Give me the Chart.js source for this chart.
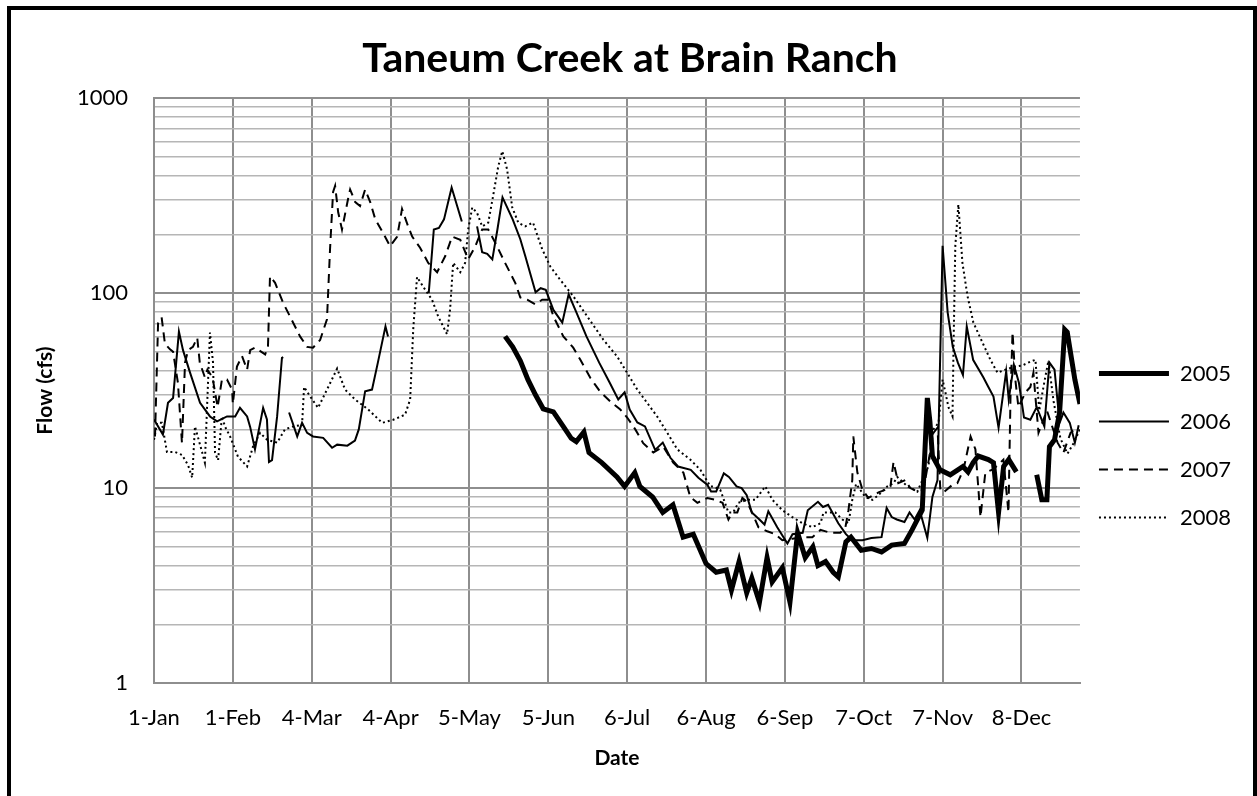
<!DOCTYPE html>
<html>
<head>
<meta charset="utf-8">
<title>Taneum Creek at Brain Ranch</title>
<script src="https://cdn.jsdelivr.net/npm/chart.js@4.4.1/dist/chart.umd.min.js"></script>
<style>
  html, body { margin: 0; padding: 0; background: #fff; overflow: hidden; }
  #wrap { position: relative; width: 1257px; height: 796px; }
  #frame { position: absolute; left: 7px; top: 6px; width: 1250px; height: 900px; border: 4px solid #000; box-sizing: border-box; pointer-events: none; }
</style>
</head>
<body>
<div id="wrap">
  <canvas id="myChart" width="1257" height="796"></canvas>
  <div id="frame"></div>
</div>
<script>
const ctx = document.getElementById('myChart');

// x ticks every 31 days from 1-Jan (day 0)
const tickDays = [0, 31, 62, 93, 124, 155, 186, 217, 248, 279, 310, 341];
const tickLabels = ['1-Jan', '1-Feb', '4-Mar', '4-Apr', '5-May', '5-Jun', '6-Jul', '6-Aug', '6-Sep', '7-Oct', '7-Nov', '8-Dec'];

// log axis: labels on decades, grid on every 1..9 step
const yDecades = [1, 10, 100, 1000];
const yGridValues = [1, 2, 3, 4, 5, 6, 7, 8, 9, 10, 20, 30, 40, 50, 60, 70, 80, 90,
    100, 200, 300, 400, 500, 600, 700, 800, 900, 1000];

const years = ['2005', '2006', '2007', '2008'];

// [day of year, flow cfs]; null flow = missing record
const flow2005 = [[138, 60], [141, 53], [144, 45], [147, 36], [150, 30], [153, 25.5], [157, 24.6], [161, 20.6],
    [164, 18], [166, 17.3], [169, 19.4], [171, 15.2], [176, 13.5], [182, 11.4], [185, 10.2], [189, 12],
    [191, 10.2], [196, 9], [200, 7.5], [204, 8.2], [208, 5.6], [212, 5.8], [217, 4.1], [221, 3.7],
    [225, 3.8], [227, 3.0], [230, 4.2], [233, 2.9], [235, 3.45], [238, 2.6], [241, 4.4], [243, 3.3],
    [247, 3.9], [250, 2.6], [253, 5.9], [256, 4.4], [259, 5.0], [261, 4.0], [264, 4.2], [267, 3.7],
    [269, 3.5], [272, 5.3], [274, 5.6], [278, 4.8], [282, 4.9], [286, 4.7], [290, 5.1], [295, 5.2],
    [298, 6.1], [302, 7.7], [304, 29], [305, 22], [306, 14.6], [309, 12.4], [313, 11.7], [316, 12.4],
    [318, 12.9], [320, 12.1], [322, 13.5], [324, 14.6], [328, 14], [330, 13.5], [332, 7.5], [334, 12.9],
    [336, 14], [339, 12.1], [343, null], [347, 11.7], [349, 8.7], [351, 8.7], [352, 16.3], [354, 17.7],
    [356, 24.4], [358, 65], [359, 63], [362, 36], [364, 27]];

const flow2006 = [[0, 22.5], [3.5, 18.8], [5.5, 27.4], [7.5, 29], [9.8, 63.5], [11.4, 51], [14.2, 39], [18.1, 27.4],
    [22, 23.3], [24.8, 22], [28.7, 23.3], [31.9, 23.3], [33.8, 25.8], [36.6, 23.3], [37.8, 20.6], [39.7, 15.8],
    [42.9, 25.8], [44.4, 22.5], [45.2, 13.6], [46.4, 13.9], [48.4, 23.3], [50.3, 46.6], [50.8, 47], [52, null],
    [53.1, 24.4], [56.3, 18.4], [58.2, 21.6], [60.2, 19.2], [62.5, 18.4], [66.5, 18.1], [70, 16.1], [72, 16.7],
    [76, 16.5], [79, 17.5], [80.5, 20], [83, 31.4], [85.7, 32], [88, 44], [91, 67.5], [92, 60], [100, null],
    [108, 100], [110, 212], [112, 216], [114, 239], [117, 348], [121, 233], [124, null],
    [127, 220], [129, 162], [131, 159], [133, 149], [135, 212], [137, 310], [141, 239], [144, 189],
    [146, 154], [150, 101], [152, 106], [154, 104], [157, 82], [160.5, 70.6], [163, 98.6], [166, 80],
    [170, 60], [175, 44], [179, 35], [182.5, 28.5], [185, 31], [187, 25.3], [190, 21.7], [193, 20.7],
    [197, 15.7], [200, 17.1], [203, 14.3], [206, 12.9], [211, 12.4], [214, 11.3], [217.5, 10.4], [219, 9.6],
    [221, 9.6], [224, 11.9], [226, 11.4], [229, 10.2], [231, 10], [233, 9.2], [235, 7.5], [238, 6.9],
    [240, 6.5], [241.5, 7.6], [245, 6.3], [249, 5.2], [251, 5.8], [255, 5.9], [257, 7.7], [261, 8.5],
    [263, 8.0], [265, 8.2], [269, 6.6], [272, 5.8], [274.5, 5.4], [278.5, 5.4], [282, 5.55], [286, 5.6],
    [288, 7.9], [290, 7.1], [292, 6.9], [295, 6.7], [297, 7.5], [299, 6.9], [301, 7.7], [304, 5.55],
    [306, 9.0], [308, 11], [310, 175], [312, 79.5], [314, 53], [316, 44], [318, 38], [319.5, 67.5],
    [322, 45.5], [326, 37], [328, 33], [330, 29.5], [332, 20.4], [335, 39.7], [336, 28.5], [338, 43],
    [340, 34.7], [342, 23], [344.5, 22.4], [347, 26], [350, 20.7], [352, 44], [354, 40.5], [356, 21.6],
    [357.5, 24.4], [360, 21.6], [362, 17.1], [363.5, 21]];

const flow2007 = [[0.4, 18.4], [1.6, 70], [3, 75], [4.3, 55], [6.3, 51.5], [7.5, 50], [9.4, 34.7], [11, 17],
    [12.2, 44], [13.4, 51], [15.3, 53], [17, 59], [18, 44], [20, 37], [21, 40.5], [23, 37], [25, 26],
    [26.7, 36], [28.7, 36], [30.7, 32], [31, 27], [32.6, 42], [34.6, 47.5], [36.6, 40.5], [37.8, 51],
    [39.7, 52.5], [43.7, 48.5], [44.8, 53], [45.6, 122], [47.6, 113], [50.7, 89.5], [54.7, 70.5], [57.4, 60],
    [60.2, 53], [62.5, 52.5], [65.3, 57.5], [68, 73.5], [69.2, 168], [70.4, 330], [71.2, 355], [72.4, 260],
    [73.9, 212], [76.3, 305], [77.1, 340], [79.1, 293], [81, 280], [83, 340], [85, 293], [87, 239],
    [90, 204], [92.8, 174], [95.6, 195], [97.5, 270], [99.9, 220], [101.5, 195], [104.6, 171], [107.8, 143],
    [111.3, 128], [114.5, 155], [117.2, 195], [120.4, 188], [123.5, 149], [126.3, 174], [129, 212], [131.4, 212],
    [134, 183], [138, 143], [142, 113], [144, 95], [146.7, 92.5], [149.9, 87.6], [152.6, 92.5], [155, 92.5],
    [157, 76], [160.9, 60], [164.8, 52.5], [167.6, 45.5], [171.5, 36.8], [175.4, 31.2], [179.4, 27.8], [183.3, 25.3],
    [186, 23], [189.2, 20], [192.3, 17], [196.3, 15.2], [200.2, 16.3], [204.1, 13.5], [208.1, 12], [210.8, 9.0],
    [213.6, 8.4], [217.5, 8.9], [220.7, 8.7], [223.5, 8.4], [225.8, 6.9], [227.3, 7.5], [229.3, 7.5], [231.3, 8.9],
    [233.2, 8.5], [237.6, 6.3], [241.1, 6.0], [244.2, 5.8], [247, 5.4], [251, 5.5], [254.9, 5.6], [258.8, 5.6],
    [262, 6.1], [265.9, 5.9], [269.8, 5.9], [271.8, 6.3], [273, 7.7], [274.5, 11], [274.9, 18.4], [276.5, 12],
    [278.5, 9.8], [280.8, 8.9], [282.8, 9.2], [284.8, 9.5], [287.5, 9.8], [289.5, 10.2], [290.7, 13.6], [292.6, 10.6],
    [295.4, 11], [297.3, 10], [300.1, 9.6], [302.5, 9.8], [306.4, 19.2], [308, 20.4], [309.1, 9.8], [310.3, 9.5],
    [313.9, 10.4], [315.8, 10.6], [318.2, 12.4], [321, 18.4], [322.9, 15.8], [324.9, 7.1], [326.8, 12], [330, 12.5],
    [333.9, 14], [335.9, 7.5], [336.7, 29.5], [337.5, 63], [338.6, 36], [339.8, 26], [342.6, 31], [344.5, 33],
    [345.7, 39], [347.7, 19.2], [351, 25], [355.2, 17.1], [357.5, 15.2], [360.3, 19.2], [363, 20.7]];

const flow2008 = [[0, 17.7], [1.2, 21.6], [3.1, 21.6], [5.1, 15.3], [8.3, 15.3], [11, 14.8], [13.4, 13.1], [15, 11.3],
    [16.1, 20.7], [18.9, 15.3], [20, 13.5], [22, 62.8], [23.2, 44], [24, 15.2], [25.2, 13.9], [26.7, 23.3],
    [27.9, 20.7], [29.9, 18.4], [33, 14.5], [36.6, 12.9], [38.9, 16.3], [41.7, 19.2], [44.4, 17.7], [48.4, 17.1],
    [51.5, 20], [54.7, 20.7], [58.2, 21.1], [59, 33], [61.4, 29.5], [64.5, 25.8], [68, 32], [72, 41],
    [75.1, 32], [79, 28.5], [84.2, 25.3], [89.7, 21.6], [94, 22.4], [98.7, 23.8], [100.7, 28.5], [101.9, 65],
    [103.4, 121], [105.8, 108], [109.3, 92.5], [111.7, 76], [115.2, 61.5], [116.4, 82.5], [117.6, 143], [120.4, 128],
    [122.3, 143], [123.5, 212], [125.1, 275], [127, 258], [129, 220], [131.4, 230], [133.3, 315], [135.3, 445],
    [136.9, 535], [138.8, 432], [140.8, 276], [143.2, 230], [145.9, 220], [149, 230], [152.6, 168], [155.8, 137],
    [159.7, 117], [164.8, 96.5], [170.3, 76], [176.6, 57.8], [182.1, 47.2], [186, 39], [190, 32], [193.9, 27.3],
    [197.8, 23.3], [201.8, 19.2], [205.7, 15.8], [210.8, 14], [214.8, 12.4], [218.7, 10.2], [219.9, 10.2], [222.6, 9.8],
    [225.8, 7.5], [227.7, 7.5], [229.7, 8.4], [233.2, 8.7], [236.4, 8.7], [240.3, 10.2], [243.1, 8.7], [247, 7.7],
    [250.9, 7.1], [254.9, 6.6], [258.8, 6.3], [262, 6.6], [263.2, 7.5], [265.1, 7.5], [267.8, 7.5], [270.6, 6.9],
    [273, 6.6], [274.5, 8.7], [276, 10.5], [279.6, 9], [282.4, 8.7], [284.8, 9.2], [288.3, 10.2], [290.7, 10.6],
    [292.2, 11.4], [296.2, 10.2], [300.1, 9.6], [304.4, 12.9], [306.4, 20], [308.4, 21.6], [310, 36], [311.1, 31],
    [312.3, 26], [313.9, 23.3], [314.3, 53], [315, 175], [316.2, 285], [317.8, 143], [319.8, 96.5], [322.1, 70.6],
    [325.7, 55.7], [328.8, 45.5], [331.6, 39], [334.7, 40.5], [337.9, 41.8], [341.4, 42.6], [344.5, 44.5], [346.5, 45.5],
    [348, 25], [350, 35], [351.6, 45], [353.6, 28], [356.3, 18], [359.1, 15], [361.5, 17], [364, 20]];

const toPoints = (rows) => rows.map(r => ({ x: r[0], y: r[1] }));

const font = 'Lato';

// pull the legend a little towards the plot, like the Excel original
const legendNudge = {
    id: 'legendNudge',
    afterLayout(chart) {
        chart.legend.left -= 7;
        chart.legend.right -= 7;
    }
};

const chartDemo = new Chart(ctx, {
    type: 'line',
    data: {
        datasets: [
            {
                label: years[0],
                data: toPoints(flow2005),
                borderColor: '#000',
                borderWidth: 5,
            },
            {
                label: years[1],
                data: toPoints(flow2006),
                borderColor: '#000',
                borderWidth: 2,
            },
            {
                label: years[2],
                data: toPoints(flow2007),
                borderColor: '#000',
                borderWidth: 2,
                borderDash: [9, 6],
            },
            {
                label: years[3],
                data: toPoints(flow2008),
                borderColor: '#000',
                borderWidth: 2,
                borderDash: [2, 3],
            },
        ]
    },
    plugins: [legendNudge],
    options: {
        responsive: false,
        animation: false,
        spanGaps: false,
        layout: { padding: { left: 12, right: 9, top: 12, bottom: 10 } },
        elements: {
            point: { radius: 0, hoverRadius: 0 },
            line: { tension: 0, borderCapStyle: 'butt' }
        },
        plugins: {
            title: {
                display: true,
                text: 'Taneum Creek at Brain Ranch',
                color: '#000',
                font: { family: font, size: 41, weight: 'bold' },
                padding: { top: 22, bottom: 15 }
            },
            legend: {
                position: 'right',
                align: 'center',
                title: { display: true, text: ' ', font: { size: 10 }, padding: { top: 81, bottom: 0 } },
                labels: {
                    usePointStyle: true,
                    pointStyleWidth: 70,
                    padding: 26,
                    color: '#000',
                    font: { family: font, size: 22 },
                    // line samples that keep each series' width and dash
                    generateLabels: (chart) => chart.data.datasets.map((ds, i) => ({
                        text: ds.label,
                        datasetIndex: i,
                        fontColor: '#000',
                        strokeStyle: '#000',
                        fillStyle: '#000',
                        lineWidth: ds.borderWidth,
                        lineDash: ds.borderDash || [],
                        lineCap: 'butt',
                        pointStyle: 'line',
                        hidden: false
                    }))
                }
            },
            tooltip: { enabled: false }
        },
        scales: {
            x: {
                type: 'linear',
                min: 0,
                max: 364,
                afterBuildTicks: (scale) => { scale.ticks = tickDays.map(v => ({ value: v })); },
                afterFit: (scale) => { scale.height = 103; },
                ticks: {
                    autoSkip: false,
                    maxRotation: 0,
                    padding: 22,
                    color: '#000',
                    font: { family: font, size: 22 },
                    callback: (value, index) => tickLabels[index]
                },
                grid: { color: '#8e8e8e', lineWidth: 2, drawTicks: false },
                border: { color: '#8e8e8e', width: 2 },
                title: {
                    display: true,
                    text: 'Date',
                    color: '#000',
                    font: { family: font, size: 21, weight: 'bold' },
                    padding: { top: 0, bottom: 15 }
                }
            },
            y: {
                type: 'logarithmic',
                min: 1,
                max: 1000,
                afterBuildTicks: (scale) => { scale.ticks = yGridValues.map(v => ({ value: v, major: yDecades.includes(v) })); },
                afterFit: (scale) => { scale.width = 142; },
                ticks: {
                    autoSkip: false,
                    padding: 26,
                    color: '#000',
                    font: { family: font, size: 22 },
                    callback: (value) => yDecades.includes(value) ? String(value) : ''
                },
                grid: {
                    drawTicks: false,
                    color: (c) => yDecades.includes(c.tick && c.tick.value) ? '#8e8e8e' : '#b6b6b6',
                    lineWidth: (c) => yDecades.includes(c.tick && c.tick.value) ? 2 : 1.6
                },
                border: { color: '#8e8e8e', width: 2 },
                title: {
                    display: true,
                    text: 'Flow (cfs)',
                    color: '#000',
                    font: { family: font, size: 21, weight: 'bold' },
                    padding: { top: 21, bottom: 0 }
                }
            }
        }
    }
});
</script>
</body>
</html>
